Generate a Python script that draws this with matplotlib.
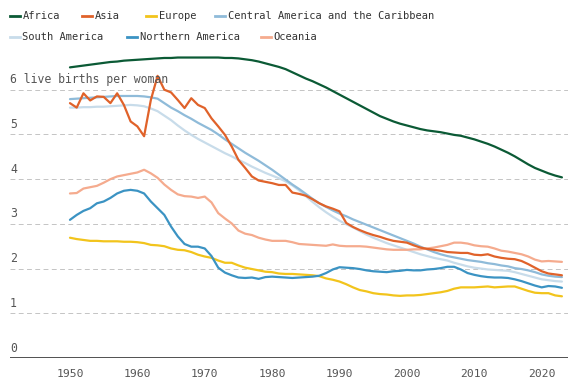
import matplotlib
matplotlib.use("Agg")
import matplotlib.pyplot as plt
from matplotlib.lines import Line2D
import matplotlib.transforms as mtransforms

years = list(range(1950, 2024))

africa = [6.50, 6.52, 6.54, 6.56, 6.58, 6.60, 6.62, 6.63, 6.65, 6.66,
          6.67, 6.68, 6.69, 6.70, 6.71, 6.71, 6.72, 6.72, 6.72, 6.72,
          6.72, 6.72, 6.72, 6.71, 6.71, 6.70, 6.68, 6.66, 6.63, 6.59,
          6.55, 6.51, 6.46, 6.39, 6.32, 6.25, 6.19, 6.12, 6.05, 5.97,
          5.89, 5.81, 5.73, 5.65, 5.57, 5.49, 5.41, 5.35, 5.29, 5.24,
          5.20, 5.16, 5.12, 5.09, 5.07, 5.05, 5.02, 4.99, 4.97, 4.93,
          4.89, 4.84, 4.79, 4.73, 4.66, 4.59, 4.51, 4.42, 4.33, 4.25,
          4.19, 4.13, 4.08, 4.04]

asia = [5.70, 5.60, 5.92, 5.76, 5.85, 5.84, 5.70, 5.92, 5.66, 5.29,
        5.18, 4.96, 5.77, 6.31, 6.00, 5.94, 5.77, 5.59, 5.81, 5.66,
        5.59, 5.36, 5.18, 4.99, 4.73, 4.43, 4.25, 4.06, 3.97, 3.94,
        3.91, 3.87, 3.87, 3.70, 3.67, 3.63, 3.55, 3.46, 3.39, 3.34,
        3.28, 3.02, 2.93, 2.86, 2.80, 2.75, 2.71, 2.66, 2.62, 2.60,
        2.58, 2.52, 2.47, 2.44, 2.42, 2.40, 2.37, 2.36, 2.35, 2.35,
        2.31, 2.30, 2.32, 2.27, 2.24, 2.22, 2.21, 2.17, 2.10, 2.02,
        1.94, 1.89, 1.87, 1.85]

europe = [2.69, 2.66, 2.64, 2.62, 2.62, 2.61, 2.61, 2.61, 2.60, 2.60,
          2.59, 2.57, 2.53, 2.52, 2.50, 2.45, 2.42, 2.41, 2.37, 2.31,
          2.27, 2.24, 2.18, 2.13, 2.13, 2.07, 2.02, 1.99, 1.96, 1.93,
          1.92, 1.89, 1.88, 1.88, 1.87, 1.86, 1.85, 1.83, 1.78, 1.75,
          1.71, 1.65, 1.58, 1.52, 1.49, 1.45, 1.43, 1.42, 1.40, 1.39,
          1.40, 1.40, 1.41, 1.43, 1.45, 1.47, 1.50, 1.55, 1.58, 1.58,
          1.58, 1.59, 1.60, 1.58, 1.59, 1.60, 1.60, 1.55, 1.50, 1.46,
          1.45, 1.45, 1.40, 1.38]

central_america = [5.79, 5.80, 5.81, 5.82, 5.83, 5.84, 5.85, 5.86, 5.86, 5.86,
                   5.86, 5.85, 5.83, 5.80, 5.70, 5.60, 5.52, 5.43, 5.35, 5.26,
                   5.18, 5.10, 5.00, 4.89, 4.79, 4.69, 4.59, 4.50, 4.41, 4.31,
                   4.21, 4.10, 3.99, 3.88, 3.78, 3.67, 3.56, 3.46, 3.38, 3.30,
                   3.23, 3.17, 3.10, 3.04, 2.98, 2.92, 2.86, 2.80, 2.74, 2.68,
                   2.62, 2.56, 2.49, 2.43, 2.37, 2.32, 2.28, 2.25, 2.22, 2.19,
                   2.17, 2.15, 2.12, 2.10, 2.07, 2.05, 2.01, 1.99, 1.96, 1.92,
                   1.87, 1.84, 1.82, 1.81]

south_america = [5.60, 5.60, 5.61, 5.61, 5.62, 5.62, 5.63, 5.64, 5.65, 5.66,
                 5.65, 5.63, 5.58, 5.52, 5.42, 5.32, 5.20, 5.09, 4.99, 4.90,
                 4.82, 4.74, 4.66, 4.58, 4.51, 4.43, 4.36, 4.28, 4.21, 4.14,
                 4.08, 4.02, 3.95, 3.86, 3.75, 3.62, 3.49, 3.37, 3.26, 3.16,
                 3.07, 2.99, 2.92, 2.84, 2.76, 2.69, 2.63, 2.57, 2.52, 2.47,
                 2.42, 2.37, 2.32, 2.28, 2.24, 2.21, 2.18, 2.13, 2.09, 2.05,
                 2.02, 2.00, 1.98, 1.97, 1.96, 1.95, 1.92, 1.88, 1.84, 1.80,
                 1.76, 1.74, 1.72, 1.71]

northern_america = [3.09, 3.20, 3.29, 3.35, 3.46, 3.50, 3.58, 3.68, 3.74, 3.76,
                    3.74, 3.68, 3.50, 3.35, 3.20, 2.94, 2.72, 2.55, 2.49, 2.49,
                    2.45, 2.28, 2.02, 1.91, 1.85, 1.80, 1.79, 1.80, 1.77, 1.81,
                    1.82, 1.81, 1.80, 1.79, 1.80, 1.81, 1.82, 1.84, 1.90, 1.98,
                    2.03, 2.02, 2.01, 1.99, 1.96, 1.94, 1.93, 1.92, 1.94, 1.95,
                    1.97, 1.96, 1.96, 1.98, 1.99, 2.01, 2.04, 2.04, 1.98, 1.90,
                    1.86, 1.83, 1.81, 1.80, 1.80, 1.79, 1.76, 1.72, 1.67, 1.62,
                    1.58, 1.61, 1.60, 1.57]

oceania = [3.68, 3.69, 3.79, 3.82, 3.85, 3.92, 4.00, 4.06, 4.09, 4.12,
           4.15, 4.21, 4.13, 4.03, 3.88, 3.76, 3.66, 3.62, 3.61, 3.58,
           3.61, 3.48, 3.24, 3.12, 3.01, 2.85, 2.78, 2.75, 2.69, 2.65,
           2.62, 2.62, 2.62, 2.59, 2.55, 2.54, 2.53, 2.52, 2.51, 2.54,
           2.51, 2.50, 2.50, 2.50, 2.49, 2.47, 2.45, 2.43, 2.42, 2.42,
           2.42, 2.43, 2.43, 2.45, 2.47, 2.50, 2.53, 2.58, 2.58, 2.56,
           2.52, 2.50, 2.49, 2.45, 2.40, 2.38, 2.35, 2.32, 2.27, 2.20,
           2.16, 2.17, 2.16, 2.15]

colors = {"Africa": "#0b5a35", "Asia": "#e0622a", "Europe": "#f2c41c",
          "Central America and the Caribbean": "#8fbbd9",
          "South America": "#c8dcea", "Northern America": "#3b93c3",
          "Oceania": "#f5ab8e"}
series = {"Africa": africa, "Asia": asia, "Europe": europe,
          "Central America and the Caribbean": central_america,
          "South America": south_america, "Northern America": northern_america,
          "Oceania": oceania}

yticks = [0, 1, 2, 3, 4, 5, 6]
xticks = [1950, 1960, 1970, 1980, 1990, 2000, 2010, 2020]

mono = "DejaVu Sans Mono"

fig = plt.figure(figsize=(5.81, 3.85), dpi=100)
ax = fig.add_axes([0.0172, 0.0701, 0.9604, 0.813])

# gridlines
for v in yticks[1:]:
    ax.axhline(v, color="#c4c4c4", lw=0.7, ls=(0, (5, 3.5)), zorder=0)
ax.axhline(0, color="#333333", lw=1.2, zorder=1)

order = ["South America", "Central America and the Caribbean", "Oceania",
         "Europe", "Northern America", "Asia", "Africa"]
for n in order:
    ax.plot(years, series[n], color=colors[n], lw=1.6, solid_capstyle="round",
            solid_joinstyle="round", zorder=3)

ax.set_xlim(1941.1, 2023.9)
ax.set_ylim(0, 7)
ax.set_xticks(xticks)
ax.set_xticklabels([str(x) for x in xticks], fontsize=8.2, color="#555555",
                   family=mono)
ax.tick_params(axis="x", length=0, pad=8)
ax.set_yticks([])
for s in ax.spines.values():
    s.set_visible(False)

trans = mtransforms.blended_transform_factory(ax.transAxes, ax.transData)
for v in yticks:
    label = "6 live births per woman" if v == 6 else str(v)
    ax.annotate(label, xy=(0, v), xycoords=trans, xytext=(0, 2.5),
                textcoords="offset points", ha="left", va="bottom",
                fontsize=8.3, color="#555555", family=mono)

# legend, flowing layout like the original
rows = [[("Africa", 10), ("Asia", 82), ("Europe", 146),
         ("Central America and the Caribbean", 215)],
        [("South America", 10), ("Northern America", 127), ("Oceania", 261)]]
row_y = [16, 37]
W, H = 581.0, 385.0
for r, items in enumerate(rows):
    yy = 1 - row_y[r] / H
    for n, x0 in items:
        fig.add_artist(Line2D([x0 / W, (x0 + 10) / W], [yy, yy],
                              color=colors[n], lw=2.0))
        fig.text((x0 + 12.5) / W, yy, n, fontsize=7.5, color="#333333",
                 family=mono, va="center", ha="left")

fig.savefig("out.png", dpi=100)
